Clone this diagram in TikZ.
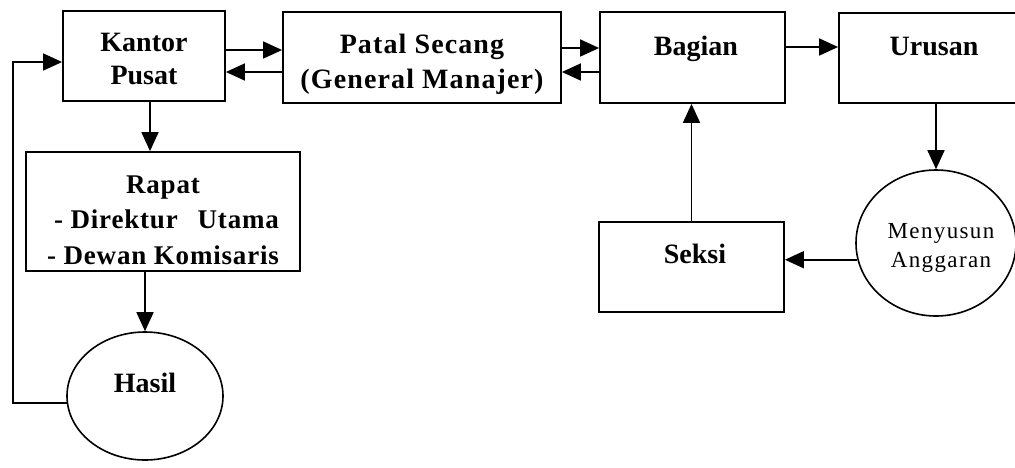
\documentclass[tikz,border=0pt]{standalone}
\usepackage{fontspec}
\setmainfont{Liberation Serif}
\usetikzlibrary{arrows.meta,shapes.geometric}
\begin{document}
\begin{tikzpicture}[x=1pt,y=-1pt,
  box/.style={draw,line width=1.8pt,inner sep=0pt},
  oval/.style={draw,ellipse,line width=1.6pt,inner sep=0pt},
  lbl/.style={inner sep=0pt,font=\bfseries\fontsize{28}{33}\selectfont,align=center},
  arr/.style={line width=1.7pt,-{Triangle[length=19pt,width=17pt]}}]
\useasboundingbox (0,0) rectangle (1015,467);
% boxes
\node[box,minimum width=162pt,minimum height=90pt] (kantor) at (144,56) {};
\node[box,minimum width=278pt,minimum height=91pt] (patal) at (422,57.5) {};
\node[box,minimum width=185pt,minimum height=91pt] (bagian) at (692.5,57.5) {};
\node[box,minimum width=194pt,minimum height=90pt] (urusan) at (936,58) {};
\node[box,minimum width=274pt,minimum height=119pt] (rapat) at (163,211.5) {};
\node[box,minimum width=185pt,minimum height=90pt] (seksi) at (691.5,267) {};
\node[oval,minimum width=156pt,minimum height=128pt] (hasil) at (145,396) {};
\node[oval,minimum width=160pt,minimum height=146pt] (menyusun) at (936,243) {};
% labels
\node[lbl,anchor=north] (kantorT) at (144,33) {Kantor\\Pusat};
\node[lbl,anchor=north,font=\bfseries\fontsize{28}{35}\selectfont\addfontfeature{LetterSpace=4}] (patalT) at (422,34) {Patal Secang\\(General Manajer)};
\node[lbl,anchor=base] (bagianT) at (696,55) {Bagian};
\node[lbl,anchor=base] (urusanT) at (934,55) {Urusan};
\node[lbl,anchor=base] (seksiT) at (695,263) {Seksi};
\node[lbl,anchor=base] (hasilT) at (145,392) {Hasil};
\node[inner sep=0pt,anchor=north,align=center,font=\fontsize{23}{29}\selectfont\addfontfeature{LetterSpace=6}] (menyusunT) at (941,223) {Menyusun\\Anggaran};
\node[inner sep=0pt,anchor=north,font=\bfseries\fontsize{27}{35.5}\selectfont\addfontfeature{LetterSpace=3}] (rapatT) at (163,168)
  {\begin{tabular}{@{}c@{}}Rapat\\ \hspace{7pt}- Direktur\hfill Utama\\ - Dewan Komisaris\end{tabular}};
% connectors
\coordinate (fb) at (13,0);
\coordinate (kp) at ([yshift=-6pt]kantor.west);
\draw[arr] ([yshift=6pt]kantor.east) -- ([yshift=6pt]kantor.east -| patal.west);
\draw[arr] ([yshift=-14.5pt]patal.west) -- ([yshift=-14.5pt]patal.west -| kantor.east);
\draw[arr] ([yshift=9.5pt]patal.east) -- ([yshift=9.5pt]patal.east -| bagian.west);
\draw[arr] ([yshift=-14.5pt]bagian.west) -- ([yshift=-14.5pt]bagian.west -| patal.east);
\draw[arr] ([yshift=10.5pt]bagian.east) -- ([yshift=10.5pt]bagian.east -| urusan.west);
\draw[arr] (urusan.south) -- (menyusun.north);
\draw[arr] (menyusun.192) -- (menyusun.192 -| seksi.east);
\draw[arr] (seksi.north) -- (seksi.north |- bagian.south);
\draw[arr] ([xshift=6pt]kantor.south) -- ([xshift=6pt]kantor.south |- rapat.north);
\draw[arr] (rapat.south -| hasil.north) -- (hasil.north);
\draw[arr] (hasil.185) -- (hasil.185 -| fb) -- (fb |- kp) -- (kp);
\end{tikzpicture}
\end{document}
